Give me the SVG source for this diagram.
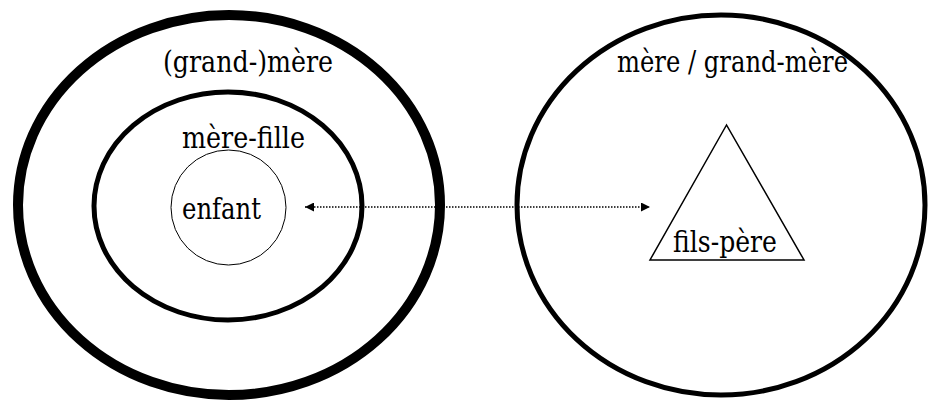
<svg xmlns="http://www.w3.org/2000/svg" width="931" height="401" viewBox="0 0 931 401">
<style>
text{font-family:'DejaVu Serif',serif;font-size:30px;fill:#000;text-anchor:middle}
.sh{fill:none;stroke:#000}
</style>
<defs>
<marker id="ah" viewBox="0 0 10 10" refX="10" refY="5" markerWidth="7" markerHeight="6" markerUnits="strokeWidth" orient="auto-start-reverse">
<path d="M0,0 L10,5 L0,10 Z" fill="#000"/>
</marker>
</defs>
<rect width="931" height="401" fill="#fff"/>
<g id="grand-mere">
<ellipse class="sh" cx="229" cy="205" rx="211" ry="190" stroke-width="10"/>
<text x="248" y="72" textLength="170" lengthAdjust="spacingAndGlyphs">(grand-)mère</text>
</g>
<g id="mere-fille">
<ellipse class="sh" cx="228" cy="206" rx="134" ry="114" stroke-width="5"/>
<text x="243.5" y="148" textLength="123" lengthAdjust="spacingAndGlyphs">mère-fille</text>
</g>
<g id="enfant">
<circle class="sh" cx="228.5" cy="207.5" r="57.5" stroke-width="1"/>
<text x="221.5" y="219" textLength="79" lengthAdjust="spacingAndGlyphs">enfant</text>
</g>
<g id="mere-grand-mere">
<ellipse class="sh" cx="721" cy="205" rx="204" ry="190" stroke-width="5"/>
<text x="732.5" y="72" textLength="231" lengthAdjust="spacingAndGlyphs">mère / grand-mère</text>
</g>
<g id="fils-pere">
<polygon class="sh" points="726.5,125 650,260 804,260" stroke-width="1.5"/>
<text x="725" y="252" textLength="104" lengthAdjust="spacingAndGlyphs">fils-père</text>
</g>
<g id="connectors">
<line x1="305" y1="207" x2="650" y2="207" stroke="#000" stroke-width="1.5" stroke-dasharray="1.5,1.5" marker-start="url(#ah)" marker-end="url(#ah)"/>
</g>
</svg>
